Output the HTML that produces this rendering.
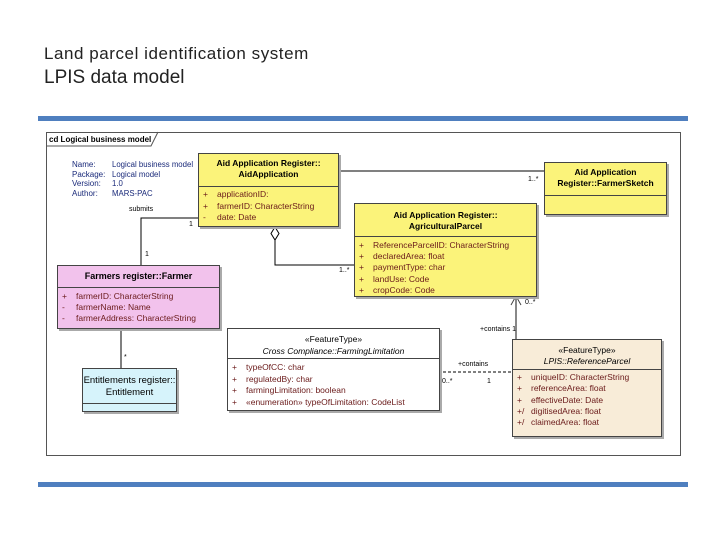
<!DOCTYPE html>
<html><head><meta charset="utf-8"><style>
body{margin:0;width:720px;height:540px;background:#fff;position:relative;overflow:hidden;font-family:"Liberation Sans",Arial,sans-serif}
.a{position:absolute}
.t{position:absolute;white-space:nowrap;font-size:8.5px;color:#000}
.box{position:absolute;border:1px solid #444;box-shadow:2px 2px 0 #aaa}
.r{color:#6a1a1a}
</style></head><body>
<div class="t" style="left:44px;top:44px;font-size:17px;letter-spacing:0.55px;color:#222">Land parcel identification system</div>
<div class="t" style="left:44px;top:67px;font-size:19px;color:#222">LPIS data model</div>
<div class="a" style="left:38px;top:116px;width:650px;height:5px;background:#4f7fbf"></div>
<div class="a" style="left:38px;top:482px;width:650px;height:5px;background:#4f7fbf"></div>
<div class="a" style="left:46px;top:132px;width:633px;height:322px;border:1px solid #555"></div>
<svg class="a" style="left:0;top:0" width="720" height="540">
<path d="M46 146 H151 L158 132" fill="none" stroke="#555"/>
<path d="M338 171 H544" stroke="#000" fill="none"/>
<path d="M198 218 H141 V265" stroke="#000" fill="none"/>
<path d="M121 327 V368" stroke="#000" fill="none"/>
<path d="M275 240 V265 H354" stroke="#000" fill="none"/>
<polygon points="275,227 279,233.5 275,240 271,233.5" fill="#fff" stroke="#000"/>
<path d="M438 372 H512" stroke="#000" stroke-dasharray="3,2" fill="none"/>
<path d="M516 339 V297" stroke="#888" stroke-width="2" fill="none"/>
<path d="M511 305 L516 296 L521 305" stroke="#444" fill="none" stroke-width="1"/>
</svg>
<div class="t" style="left:49px;top:135px;font-weight:bold;font-size:8px">cd Logical business model</div>
<div class="t" style="left:72px;top:160px;color:#1a2a7a;line-height:9.5px;font-size:8px">Name:<br>Package:<br>Version:<br>Author:</div>
<div class="t" style="left:112px;top:160px;color:#1a2a7a;line-height:9.5px;font-size:7.8px">Logical business model<br>Logical model<br>1.0<br>MARS-PAC</div>
<div class="box" style="left:198px;top:153px;width:139px;height:72px;background:#fbf37a">
<div class="t" style="left:0;width:139px;top:4px;text-align:center;font-weight:bold;line-height:11px">Aid Application Register::<br>AidApplication</div>
<div class="a" style="left:0;top:32px;width:139px;border-top:1px solid #444"></div>
<div class="t r" style="left:4px;top:35px;line-height:11.5px">+<br>+<br>-</div>
<div class="t r" style="left:18px;top:35px;line-height:11.5px">applicationID:<br>farmerID: CharacterString<br>date: Date</div></div>
<div class="box" style="left:544px;top:162px;width:121px;height:51px;background:#fbf37a">
<div class="t" style="left:0;width:121px;top:4px;text-align:center;font-weight:bold;line-height:11px">Aid Application<br>Register::FarmerSketch</div>
<div class="a" style="left:0;top:32px;width:121px;border-top:1px solid #444"></div></div>
<div class="box" style="left:354px;top:203px;width:181px;height:92px;background:#fbf37a">
<div class="t" style="left:0;width:181px;top:6px;text-align:center;font-weight:bold;line-height:11px">Aid Application Register::<br>AgriculturalParcel</div>
<div class="a" style="left:0;top:32px;width:181px;border-top:1px solid #444"></div>
<div class="t r" style="left:4px;top:36px;line-height:11.2px">+<br>+<br>+<br>+<br>+</div>
<div class="t r" style="left:18px;top:36px;line-height:11.2px">ReferenceParcelID: CharacterString<br>declaredArea: float<br>paymentType: char<br>landUse: Code<br>cropCode: Code</div></div>
<div class="box" style="left:57px;top:265px;width:161px;height:62px;background:#f2c2ec">
<div class="t" style="left:0;width:161px;top:5px;text-align:center;font-weight:bold;font-size:9px">Farmers register::Farmer</div>
<div class="a" style="left:0;top:21px;width:161px;border-top:1px solid #444"></div>
<div class="t r" style="left:4px;top:25px;line-height:11px">+<br>-<br>-</div>
<div class="t r" style="left:18px;top:25px;line-height:11px">farmerID: CharacterString<br>farmerName: Name<br>farmerAddress: CharacterString</div></div>
<div class="box" style="left:82px;top:368px;width:93px;height:42px;background:#d6f3fb">
<div class="t" style="left:0;width:93px;top:6px;text-align:center;font-size:9.5px;line-height:12px">Entitlements register::<br>Entitlement</div>
<div class="a" style="left:0;top:34px;width:93px;border-top:1px solid #444"></div></div>
<div class="box" style="left:227px;top:328px;width:211px;height:81px;background:#fff">
<div class="t" style="left:0;width:211px;top:4px;text-align:center;line-height:12px">«FeatureType»<br><i>Cross Compliance::FarmingLimitation</i></div>
<div class="a" style="left:0;top:29px;width:211px;border-top:1px solid #444"></div>
<div class="t r" style="left:4px;top:33px;line-height:11.5px">+<br>+<br>+<br>+</div>
<div class="t r" style="left:18px;top:33px;line-height:11.5px">typeOfCC: char<br>regulatedBy: char<br>farmingLimitation: boolean<br>«enumeration» typeOfLimitation: CodeList</div></div>
<div class="box" style="left:512px;top:339px;width:148px;height:96px;background:#f8ecd8">
<div class="t" style="left:0;width:148px;top:5px;text-align:center;line-height:11px">«FeatureType»<br><i>LPIS::ReferenceParcel</i></div>
<div class="a" style="left:0;top:29px;width:148px;border-top:1px solid #444"></div>
<div class="t r" style="left:4px;top:32px;line-height:11.3px">+<br>+<br>+<br>+/<br>+/</div>
<div class="t r" style="left:18px;top:32px;line-height:11.3px">uniqueID: CharacterString<br>referenceArea: float<br>effectiveDate: Date<br>digitisedArea: float<br>claimedArea: float</div></div>
<div class="t" style="left:129px;top:206px;font-size:7px">submits</div>
<div class="t" style="left:189px;top:221px;font-size:7px">1</div>
<div class="t" style="left:145px;top:251px;font-size:7px">1</div>
<div class="t" style="left:528px;top:176px;font-size:7px">1..*</div>
<div class="t" style="left:339px;top:267px;font-size:7px">1..*</div>
<div class="t" style="left:124px;top:354px;font-size:7px">*</div>
<div class="t" style="left:525px;top:299px;font-size:7px">0..*</div>
<div class="t" style="left:480px;top:326px;font-size:7px">+contains 1</div>
<div class="t" style="left:458px;top:361px;font-size:7px">+contains</div>
<div class="t" style="left:442px;top:378px;font-size:7px">0..*</div>
<div class="t" style="left:487px;top:378px;font-size:7px">1</div>
</body></html>
